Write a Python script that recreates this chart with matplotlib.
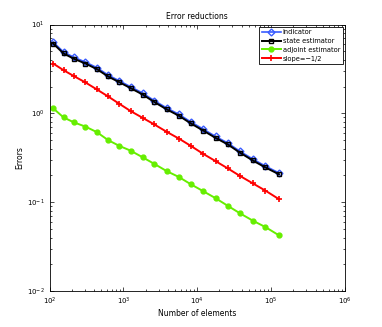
import matplotlib
matplotlib.use("Agg")
import matplotlib.pyplot as plt
import numpy as np

n_elements = [112, 155, 215, 306, 437, 621, 883, 1256, 1824, 2624, 3855, 5649,
              8204, 12050, 17700, 25940, 38100, 56490, 83750, 128200]
state_est = [6.11, 4.72, 4.11, 3.64, 3.15, 2.60, 2.24, 1.92, 1.63, 1.34, 1.11, 0.94,
             0.77, 0.64, 0.53, 0.447, 0.360, 0.295, 0.246, 0.206]
indicator = [6.35, 4.90, 4.27, 3.78, 3.27, 2.70, 2.32, 1.99, 1.69, 1.39, 1.15, 0.975,
             0.80, 0.665, 0.55, 0.463, 0.373, 0.306, 0.255, 0.213]
adjoint_est = [1.14, 0.90, 0.79, 0.71, 0.615, 0.50, 0.43, 0.38, 0.32, 0.27, 0.224, 0.192,
               0.159, 0.133, 0.111, 0.091, 0.0748, 0.062, 0.0525, 0.0423]
slope_ref = [3.64, 3.06, 2.62, 2.23, 1.86, 1.55, 1.28, 1.06, 0.89, 0.75, 0.62, 0.52,
             0.43, 0.35, 0.29, 0.24, 0.197, 0.163, 0.135, 0.108]

fig = plt.figure(figsize=(3.82, 3.27), dpi=100)
ax = fig.add_axes([0.1296, 0.110, 0.7734, 0.815])

ax.loglog(n_elements, indicator, '-D', color='#3a5cff', mfc='none', mec='#3a5cff',
          ms=3.5, lw=1.2, label='Indicator', zorder=2)
ax.loglog(n_elements, state_est, '-s', color='black', mfc='none', mec='black',
          ms=3.5, lw=1.4, label='state estimator', zorder=3)
ax.loglog(n_elements, adjoint_est, '-o', color='#66ee00', mfc='#66ee00', mec='#66ee00',
          ms=3.5, lw=1.4, label='adjoint estimator')
ax.loglog(n_elements, slope_ref, '-+', color='red', mew=1.2,
          ms=5, lw=1.4, label='slope=\u22121/2')

ax.set_xlim(1e2, 1e6)
ax.set_ylim(1e-2, 1e1)
ax.tick_params(which='both', direction='in', top=True, right=True, labelsize=5, width=0.5)
ax.tick_params(which='major', length=3)
ax.tick_params(which='minor', length=1.5)
for s in ax.spines.values():
    s.set_linewidth(0.6)

ax.set_title('Error reductions', fontsize=5.5, pad=4)
ax.set_xlabel('Number of elements', fontsize=5.5, labelpad=1)
ax.set_ylabel('Errors', fontsize=5.5, labelpad=2)

leg = ax.legend(loc='upper right', fontsize=4.8, fancybox=False, framealpha=1,
                edgecolor='black', borderpad=0.4, labelspacing=0.42,
                handlelength=2.8, handletextpad=0.3, borderaxespad=0.3)
leg.get_frame().set_linewidth(0.6)

fig.savefig('out.png', dpi=100)
